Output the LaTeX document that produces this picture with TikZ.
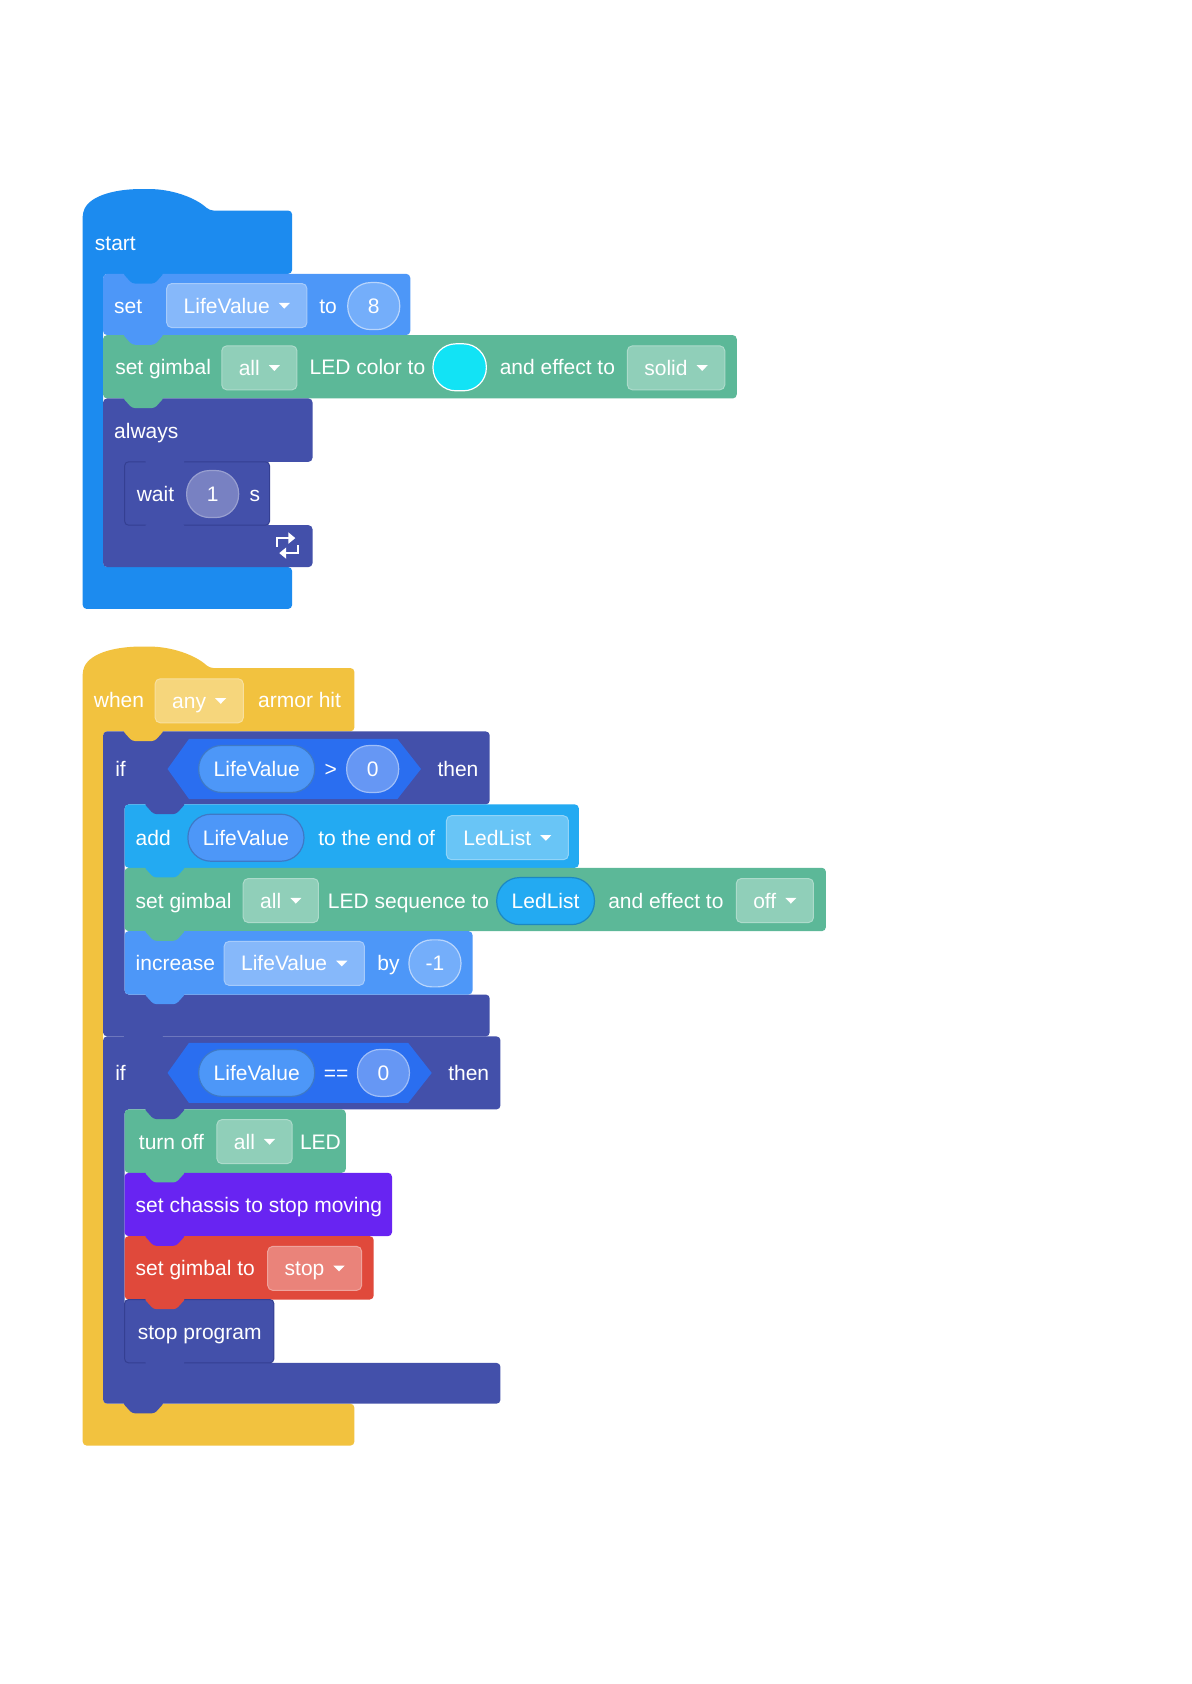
\documentclass[tikz,border=0pt]{standalone}
\usepackage{fontspec}
\setmainfont{Liberation Sans}
\usetikzlibrary{arrows.meta}
\definecolor{startblue}{HTML}{1C8BEF}
\definecolor{varblue}{HTML}{4D97F8}
\definecolor{ledgreen}{HTML}{5CB898}
\definecolor{ctrl}{HTML}{4350AA}
\definecolor{ctrledge}{HTML}{343F92}
\definecolor{evtyellow}{HTML}{F2C23F}
\definecolor{opblue}{HTML}{2A6EF0}
\definecolor{listcyan}{HTML}{23AAF2}
\definecolor{chassis}{HTML}{6824F2}
\definecolor{gimred}{HTML}{E0493B}
\definecolor{ledcyan}{HTML}{12E3F5}

\newcommand\blkfont{\fontsize{10.5}{12}\selectfont}
\newcommand\ddtri{\hspace{4.5pt}\tikz[baseline, sharp corners, x=1pt, y=1pt]\fill[white] (0,5.1) -- (5.6,5.1) -- (2.8,2.2) -- cycle;}
% tab under a block: colour, left edge, bottom edge
\newcommand\tabat[3]{\fill[#1, rounded corners=1.5pt] (#2+18,#3-1) -- (#2+27,#3+9) -- (#2+48,#3+9) -- (#2+57,#3-1) -- cycle;}

\tikzset{
  lbl/.style={text=white, font=\blkfont, inner sep=0pt, text height=7.5pt, text depth=0pt, anchor=west},
  menu/.style={lbl, anchor=center, fill=#1!68!white, draw=#1!50!white, line width=0.5pt,
    rounded corners=2.5pt, minimum height=22pt, inner xsep=8.5pt},
  pill/.style={lbl, anchor=center, fill=#1, rounded corners=11.5pt, minimum height=23.5pt,
    minimum width=26pt, inner xsep=7.5pt, line width=0.6pt},
  blk/.style={fill=#1, rounded corners=2pt}
}

\begin{document}
\begin{tikzpicture}[x=0.5369pt, y=-0.5369pt]
  \useasboundingbox (0,0) rectangle (1109,1568);
  \fill[white] (0,0) rectangle (1109,1568);

  % ---- start script ----
  \fill[blk=startblue] (77,198) .. controls (85,181) and (110,176) .. (135,176)
    .. controls (160,176) and (182,184) .. (195,196) -- (272,196) -- (272,255) -- (96,255)
    -- (96,528) -- (272,528) -- (272,567) -- (77,567) -- cycle;
  \fill[blk=varblue] (96,255) rectangle (382,312);
  \fill[blk=ledgreen] (96,312) rectangle (686,371);
  \fill[blk=ctrl] (96,371) -- (291,371) -- (291,430) -- (116,430) -- (116,489)
    -- (291,489) -- (291,528) -- (96,528) -- cycle;
  \filldraw[blk=ctrl, draw=ctrledge, line width=0.5pt] (116,430) rectangle (251,489);
  \tabat{startblue}{96}{255}
  \tabat{varblue}{96}{312}
  \tabat{ledgreen}{96}{371}
  \tabat{ctrl}{116}{430}
  \tabat{ctrl}{116}{489}
  \draw[white, line width=1.3pt, -{Triangle[length=3.5pt,width=5.5pt]}]
    (258,509) -- (258,501) -- (275,501);
  \draw[white, line width=1.3pt, -{Triangle[length=3.5pt,width=5.5pt]}]
    (277.5,507.5) -- (277.5,515) -- (260,515);

  \node[lbl] (start) at (88,226) {start};
  \node[lbl] (set) at (106,285) {set};
  \node[menu=varblue] (setvar) at (220.5,284.5) {LifeValue\ddtri};
  \node[lbl] (setto) at (297,285) {to};
  \node[pill=varblue!78!white, draw=white!60!varblue] (setnum) at (348,285) {8};
  \node[lbl] (gimbal) at (107,342) {set gimbal};
  \node[menu=ledgreen] (gimall) at (241.5,342.5) {all\ddtri};
  \node[lbl] (ledcol) at (288,342) {LED color to};
  \node[pill=ledcyan, draw=white, minimum width=26pt] (colour) at (428,342) {\phantom{00}};
  \node[lbl] (effect) at (465,342) {and effect to};
  \node[menu=ledgreen] (solid) at (629.5,342.5) {solid\ddtri};
  \node[lbl] (always) at (106,401) {always};
  \node[lbl] (wait) at (127,460) {wait};
  \node[pill=ctrl!72!white, draw=white!45!ctrl] (waitnum) at (198,460) {1};
  \node[lbl] (secs) at (232,460) {s};

  % ---- armor hit script ----
  \fill[blk=evtyellow] (77,624) .. controls (85,607) and (110,602) .. (135,602)
    .. controls (160,602) and (182,610) .. (195,622) -- (330,622) -- (330,681) -- (96,681)
    -- (96,1307) -- (330,1307) -- (330,1346) -- (77,1346) -- cycle;
  \fill[blk=ctrl] (96,681) -- (456,681) -- (456,749) -- (116,749) -- (116,926)
    -- (456,926) -- (456,965) -- (96,965) -- cycle;
  \fill[blk=listcyan] (116,749) rectangle (539,808);
  \fill[blk=ledgreen] (116,808) rectangle (769,867);
  \fill[blk=varblue] (116,867) rectangle (440,926);
  \fill[blk=ctrl] (96,965) -- (466,965) -- (466,1033) -- (116,1033) -- (116,1269)
    -- (466,1269) -- (466,1307) -- (96,1307) -- cycle;
  \fill[blk=ledgreen] (116,1033) rectangle (322,1092);
  \fill[blk=chassis] (116,1092) rectangle (365,1151);
  \fill[blk=gimred] (116,1151) rectangle (348,1210);
  \filldraw[blk=ctrl, draw=ctrledge, line width=0.5pt] (116,1210) rectangle (255,1269);
  \tabat{evtyellow}{96}{681}
  \tabat{ctrl}{116}{749}
  \tabat{listcyan}{116}{808}
  \tabat{ledgreen}{116}{867}
  \tabat{varblue}{116}{926}
  \tabat{ctrl}{96}{965}
  \tabat{ctrl}{116}{1033}
  \tabat{ledgreen}{116}{1092}
  \tabat{chassis}{116}{1151}
  \tabat{gimred}{116}{1210}
  \tabat{ctrl}{116}{1269}
  \tabat{ctrl}{96}{1307}
  \fill[opblue] (156,716) -- (176,688) -- (370,688) -- (392,716) -- (370,744) -- (176,744) -- cycle;
  \fill[opblue] (156,999) -- (176,971) -- (380,971) -- (402,999) -- (380,1027) -- (176,1027) -- cycle;

  \node[lbl] (when) at (87,652) {when};
  \node[menu=evtyellow] (anyarm) at (185.5,652.5) {any\ddtri};
  \node[lbl] (armor) at (240,652) {armor hit};

  \node[lbl] (ifa) at (107,716) {if};
  \node[pill=varblue, draw=varblue!80!black] (gtvar) at (239,716) {LifeValue};
  \node[lbl, anchor=center] (gt) at (308,716) {>};
  \node[pill=opblue!72!white, draw=white!55!opblue] (gtnum) at (347,716) {0};
  \node[lbl] (thena) at (407,716) {then};

  \node[lbl] (add) at (126,780) {add};
  \node[pill=varblue, draw=varblue!80!black] (addvar) at (229,780) {LifeValue};
  \node[lbl] (endof) at (296,780) {to the end of};
  \node[menu=listcyan] (addlist) at (472.5,780) {LedList\ddtri};

  \node[lbl] (seqgim) at (126,839) {set gimbal};
  \node[menu=ledgreen] (seqall) at (261.5,838.5) {all\ddtri};
  \node[lbl] (seqto) at (305,839) {LED sequence to};
  \node[pill=listcyan, draw=listcyan!80!black] (seqlist) at (508,839) {LedList};
  \node[lbl] (seqeff) at (566,839) {and effect to};
  \node[menu=ledgreen] (seqoff) at (721.5,838.5) {off\ddtri};

  \node[lbl] (inc) at (126,897) {increase};
  \node[menu=varblue] (incvar) at (274,897) {LifeValue\ddtri};
  \node[lbl] (incby) at (351,897) {by};
  \node[pill=varblue!78!white, draw=white!60!varblue] (incnum) at (405,897) {-1};

  \node[lbl] (ifb) at (107,999) {if};
  \node[pill=varblue, draw=varblue!80!black] (eqvar) at (239,999) {LifeValue};
  \node[lbl, anchor=center] (eq) at (313,999) {==};
  \node[pill=opblue!72!white, draw=white!55!opblue] (eqnum) at (357,999) {0};
  \node[lbl] (thenb) at (417,999) {then};

  \node[lbl] (turnoff) at (129,1063) {turn off};
  \node[menu=ledgreen] (offall) at (237,1063) {all\ddtri};
  \node[lbl] (offled) at (279,1063) {LED};
  \node[lbl] (stopmove) at (126,1122) {set chassis to stop moving};
  \node[lbl] (gimto) at (126,1181) {set gimbal to};
  \node[menu=gimred] (gimstop) at (293,1181) {stop\ddtri};
  \node[lbl] (stopprog) at (128,1240) {stop program};
\end{tikzpicture}
\end{document}
